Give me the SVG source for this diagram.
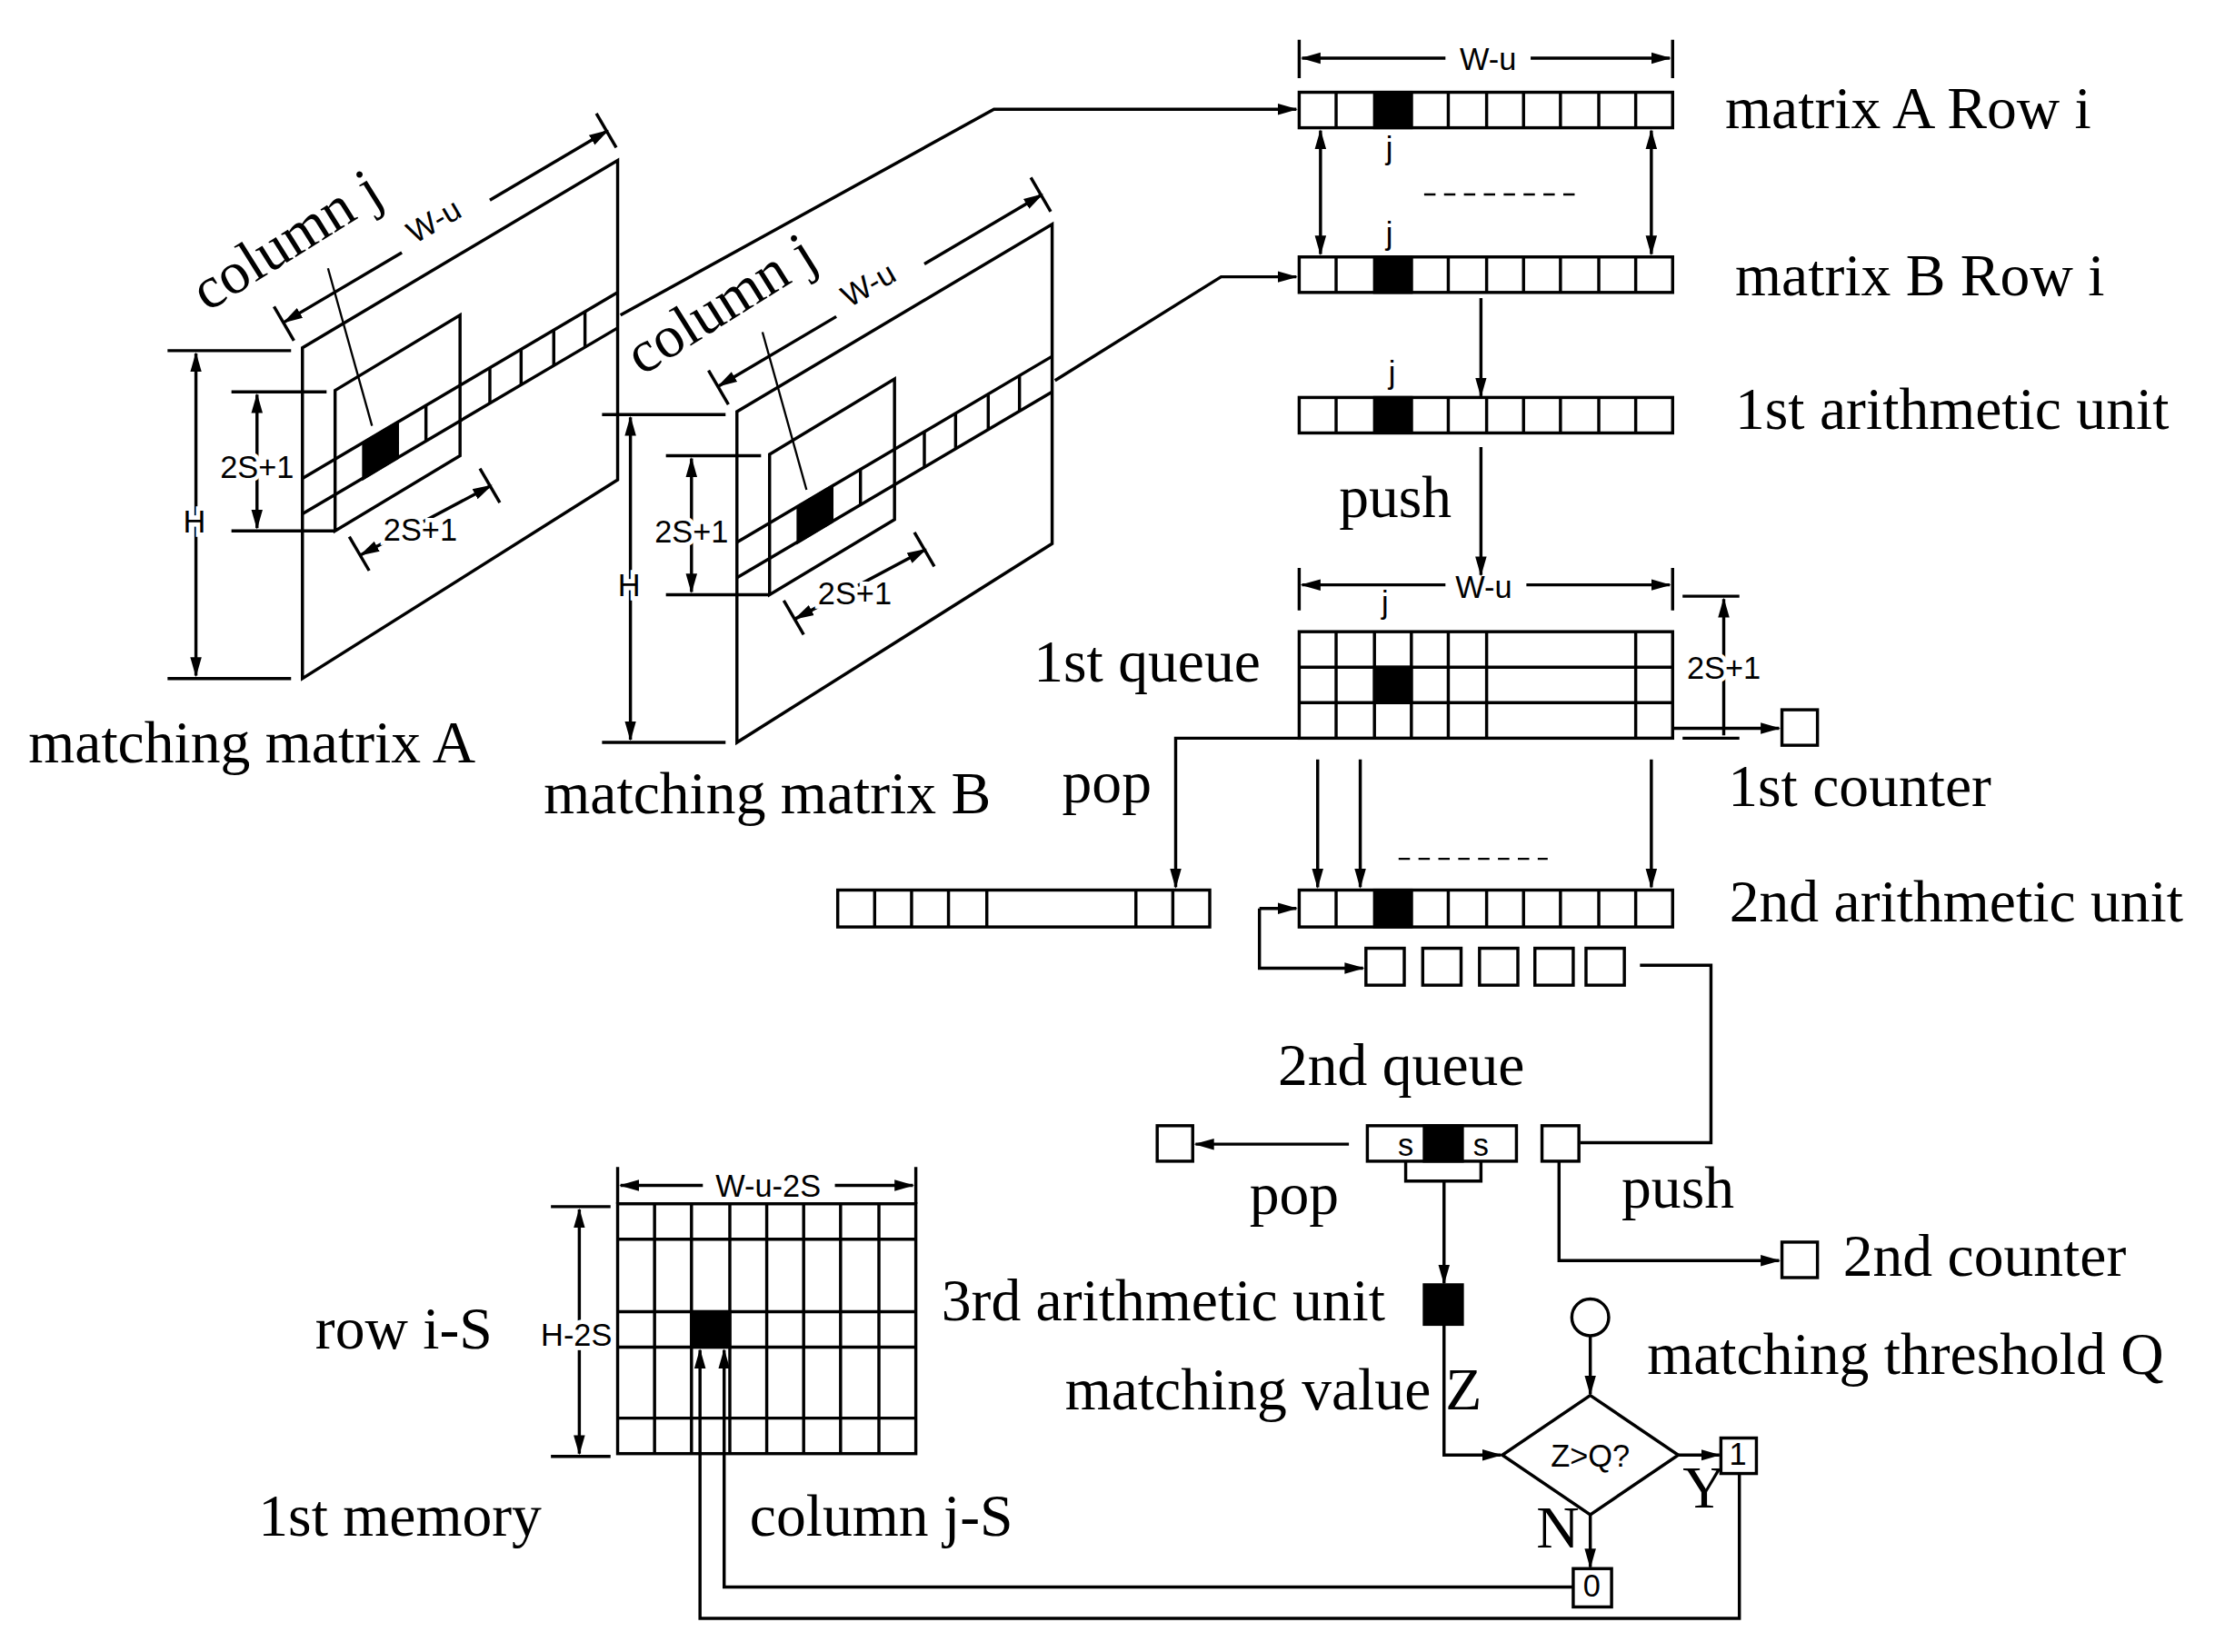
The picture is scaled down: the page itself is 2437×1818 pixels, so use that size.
<svg xmlns="http://www.w3.org/2000/svg" width="2437" height="1818" viewBox="0 0 2437 1818">
<style>
.l{fill:none;stroke:#000;stroke-width:2.2}
.t{fill:none;stroke:#000;stroke-width:1.5}
.c{fill:#fff;stroke:#000;stroke-width:2.2}
.b{fill:#000;stroke:#000;stroke-width:2}
.s{font-family:"Liberation Serif","Times New Roman",serif;font-size:42px;fill:#000}
.a{font-family:"Liberation Sans",Arial,sans-serif;font-size:22px;fill:#000}
.w{paint-order:stroke;stroke:#fff;stroke-width:6}
</style>
<defs>
<marker id="ar" markerWidth="14" markerHeight="10" refX="13" refY="5" orient="auto-start-reverse" markerUnits="userSpaceOnUse"><path d="M0,1 L14,5 L0,9 Z" fill="#000"/></marker>
<g id="mat">
<polygon class="l" points="213,245 435,113 435,338 213,478" fill="#fff"/>
<line class="l" x1="213" y1="337" x2="435" y2="206"/>
<line class="l" x1="213" y1="362" x2="435" y2="231"/>
<polygon class="l" points="236,275 324,222 324,321 236,374"/>
<polygon class="b" points="256,312 280,297.5 280,322.5 256,337"/>
<g class="l">
<line x1="300" y1="285.7" x2="300" y2="310.7"/><line x1="345" y1="259" x2="345" y2="284"/><line x1="367" y1="246" x2="367" y2="271"/><line x1="390" y1="232.6" x2="390" y2="257.6"/><line x1="412" y1="219.6" x2="412" y2="244.6"/>
</g>
<line class="t" x1="231" y1="189" x2="262" y2="300" stroke="#888"/>
<line class="l" x1="200" y1="227" x2="283" y2="178" marker-start="url(#ar)"/>
<line class="l" x1="345" y1="141" x2="428" y2="92" marker-end="url(#ar)"/>
<line class="l" x1="193" y1="216" x2="207" y2="240"/><line class="l" x1="420" y1="80" x2="434" y2="104"/>
<text class="a" transform="translate(292,172) rotate(-30)" font-size="24">W-u</text>
<text class="s" transform="translate(146,220) rotate(-32)">column j</text>
<line class="l" x1="118" y1="247" x2="205" y2="247"/><line class="l" x1="118" y1="478" x2="205" y2="478"/>
<line class="l" x1="138" y1="249" x2="138" y2="476" marker-start="url(#ar)" marker-end="url(#ar)"/>
<text class="a w" x="137" y="375" text-anchor="middle" font-size="24">H</text>
<line class="l" x1="163" y1="276" x2="230" y2="276"/><line class="l" x1="163" y1="374" x2="235" y2="374"/>
<line class="l" x1="181" y1="278" x2="181" y2="372" marker-start="url(#ar)" marker-end="url(#ar)"/>
<text class="a w" x="181" y="337" text-anchor="middle" font-size="24">2S+1</text>
<line class="l" x1="254" y1="391" x2="346" y2="342" marker-start="url(#ar)" marker-end="url(#ar)"/>
<line class="l" x1="246" y1="378" x2="260" y2="402"/><line class="l" x1="338" y1="330" x2="352" y2="354"/>
<text class="a w" x="296" y="381" text-anchor="middle" font-size="24">2S+1</text>
</g>
</defs>
<g transform="scale(1.5622)">
<g id="matrixA"><use href="#mat"/><text class="s" x="20" y="537">matching matrix A</text></g>
<g id="matrixB"><use href="#mat" transform="translate(306,45)"/><text class="s" x="383" y="573">matching matrix B</text></g>

<g id="rowA">
<rect class="c" x="915" y="65" width="263" height="25"/>
<rect class="b" x="968" y="65" width="26" height="25"/>
<g class="l"><path d="M941,65V90M994,65V90M1020,65V90M1047,65V90M1073,65V90M1099,65V90M1126,65V90M1152,65V90"/></g>
<path class="l" d="M915,28V55M1178,28V55"/>
<line class="l" x1="917" y1="41" x2="1018" y2="41" marker-start="url(#ar)"/>
<line class="l" x1="1078" y1="41" x2="1176" y2="41" marker-end="url(#ar)"/>
<text class="a" x="1048" y="49" text-anchor="middle" font-size="24">W-u</text>
<text class="a" x="976" y="112" font-size="20">j</text>
<text class="s" x="1215" y="90">matrix A Row i</text>
</g>
<g id="rowB">
<rect class="c" x="915" y="181" width="263" height="25"/>
<rect class="b" x="968" y="181" width="26" height="25"/>
<g class="l"><path d="M941,181V206M994,181V206M1020,181V206M1047,181V206M1073,181V206M1099,181V206M1126,181V206M1152,181V206"/></g>
<text class="a" x="976" y="172" font-size="20">j</text>
<text class="s" x="1222" y="208">matrix B Row i</text>
</g>
<g id="arith1">
<rect class="c" x="915" y="280" width="263" height="25"/>
<rect class="b" x="968" y="280" width="26" height="25"/>
<g class="l"><path d="M941,280V305M994,280V305M1020,280V305M1047,280V305M1073,280V305M1099,280V305M1126,280V305M1152,280V305"/></g>
<text class="a" x="978" y="270" font-size="20">j</text>
<text class="s" x="1222" y="302">1st  arithmetic unit</text>
</g>
<g id="queue1">
<rect class="c" x="915" y="445" width="263" height="75"/>
<rect class="b" x="968" y="470" width="26" height="25"/>
<path class="l" d="M915,470H1178M915,495H1178M941,445V520M968,445V520M994,445V520M1020,445V520M1047,445V520M1152,445V520"/>
<path class="l" d="M915,400V430M1178,400V430"/>
<line class="l" x1="917" y1="412" x2="1018" y2="412" marker-start="url(#ar)"/>
<line class="l" x1="1075" y1="412" x2="1176" y2="412" marker-end="url(#ar)"/>
<text class="a" x="1045" y="421" text-anchor="middle" font-size="24">W-u</text>
<text class="a" x="973" y="432" font-size="20">j</text>
<path class="l" d="M1185,420H1225M1185,520H1225"/>
<line class="l" x1="1214" y1="422" x2="1214" y2="518" marker-start="url(#ar)"/>
<text class="a w" x="1214" y="478" text-anchor="middle">2S+1</text>
<text class="s" x="728" y="480">1st queue</text>
</g>
<g id="counter1"><rect class="c" x="1255" y="500" width="25" height="25"/><text class="s" x="1217" y="568">1st  counter</text></g>
<g id="popRow">
<rect class="c" x="590" y="627" width="262" height="26"/>
<path class="l" d="M616,627V653M642,627V653M668,627V653M695,627V653M800,627V653M826,627V653"/>
</g>
<g id="arith2">
<rect class="c" x="915" y="627" width="263" height="26"/>
<rect class="b" x="968" y="627" width="26" height="26"/>
<path class="l" d="M941,627V653M994,627V653M1020,627V653M1047,627V653M1073,627V653M1099,627V653M1126,627V653M1152,627V653"/>
<text class="s" x="1218" y="649">2nd  arithmetic unit</text>
</g>
<g id="smallBoxes">
<rect class="c" x="962" y="668" width="27" height="26"/><rect class="c" x="1002" y="668" width="27" height="26"/><rect class="c" x="1042" y="668" width="27" height="26"/><rect class="c" x="1081" y="668" width="27" height="26"/><rect class="c" x="1117" y="668" width="27" height="26"/>
</g>
<g id="queue2">
<text class="s" x="900" y="764">2nd queue</text>
<rect class="c" x="963" y="793" width="105" height="25"/>
<rect class="b" x="1003" y="793" width="27" height="25"/>
<text class="a" x="990" y="814" text-anchor="middle" font-size="20">s</text>
<text class="a" x="1043" y="814" text-anchor="middle" font-size="20">s</text>
<path class="l" d="M990,818V832H1043V818"/>
</g>
<g id="popBox"><rect class="c" x="815" y="793" width="25" height="25"/></g>
<g id="pushBox"><rect class="c" x="1086" y="793" width="26" height="25"/></g>
<g id="counter2"><rect class="c" x="1255" y="875" width="25" height="25"/><text class="s" x="1298" y="899">2nd  counter</text></g>
<g id="arith3"><rect class="b" x="1003" y="905" width="27" height="28"/><text class="s" x="663" y="930">3rd  arithmetic unit</text></g>
<g id="threshold"><circle class="c" cx="1120" cy="928" r="13"/><text class="s" x="1160" y="968">matching threshold Q</text></g>
<g id="decision">
<polygon class="c" points="1120,983 1182,1025 1120,1067 1058,1025"/>
<text class="a" x="1120" y="1033" text-anchor="middle" font-size="20">Z&gt;Q?</text>
<text class="s" x="1185" y="1062">Y</text><text class="s" x="1082" y="1090">N</text>
</g>
<g id="one"><rect class="c" x="1212" y="1013" width="25" height="25"/><text class="a" x="1224" y="1032" text-anchor="middle" font-size="16">1</text></g>
<g id="zero"><rect class="c" x="1108" y="1105" width="27" height="27"/><text class="a" x="1121" y="1125" text-anchor="middle" font-size="16">0</text></g>
<g id="memory">
<rect class="c" x="435" y="848" width="210" height="176"/>
<rect class="b" x="487" y="924" width="27" height="25"/>
<path class="l" d="M435,873H645M435,924H645M435,949H645M435,999H645M461,848V1024M487,848V1024M514,848V1024M540,848V1024M566,848V1024M592,848V1024M619,848V1024"/>
<path class="l" d="M435,822V848M645,822V848"/>
<line class="l" x1="437" y1="835" x2="495" y2="835" marker-start="url(#ar)"/>
<line class="l" x1="588" y1="835" x2="643" y2="835" marker-end="url(#ar)"/>
<text class="a" x="541" y="843" text-anchor="middle">W-u-2S</text>
<path class="l" d="M388,850H430M388,1026H430"/>
<line class="l" x1="408" y1="852" x2="408" y2="1024" marker-start="url(#ar)" marker-end="url(#ar)"/>
<text class="a w" x="406" y="948" text-anchor="middle">H-2S</text>
<text class="s" x="222" y="950">row i-S</text>
<text class="s" x="182" y="1082">1st memory</text>
<text class="s" x="528" y="1082">column j-S</text>
</g>
<g id="dashes" stroke="#000" stroke-width="1.5" stroke-dasharray="8,6" fill="none">
<line x1="1003" y1="137" x2="1110" y2="137"/><line x1="985" y1="605" x2="1090" y2="605"/>
</g>
<g id="connectors">
<polyline class="l" points="437,222 700,77 913,77" marker-end="url(#ar)"/>
<polyline class="l" points="743,268 860,195 913,195" marker-end="url(#ar)"/>
<line class="l" x1="930" y1="92" x2="930" y2="179" marker-start="url(#ar)" marker-end="url(#ar)"/>
<line class="l" x1="1163" y1="92" x2="1163" y2="179" marker-start="url(#ar)" marker-end="url(#ar)"/>
<line class="l" x1="1043" y1="210" x2="1043" y2="279" marker-end="url(#ar)"/>
<line class="l" x1="1043" y1="315" x2="1043" y2="405" marker-end="url(#ar)"/>
<text class="s" x="943" y="364">push</text>
<polyline class="l" points="1178,513 1253,513" marker-end="url(#ar)"/>
<polyline class="l" points="915,520 828,520 828,625" marker-end="url(#ar)"/>
<text class="s" x="748" y="565">pop</text>
<line class="l" x1="928" y1="535" x2="928" y2="625" marker-end="url(#ar)"/>
<line class="l" x1="958" y1="535" x2="958" y2="625" marker-end="url(#ar)"/>
<line class="l" x1="1163" y1="535" x2="1163" y2="625" marker-end="url(#ar)"/>
<line class="l" x1="913" y1="640" x2="887" y2="640" marker-start="url(#ar)"/>
<polyline class="l" points="887,640 887,682 960,682" marker-end="url(#ar)"/>
<polyline class="l" points="1155,680 1205,680 1205,805 1113,805"/>
<line class="l" x1="950" y1="806" x2="842" y2="806" marker-end="url(#ar)"/>
<text class="s" x="880" y="855">pop</text>
<text class="s" x="1142" y="851">push</text>
<polyline class="l" points="1098,818 1098,888 1253,888" marker-end="url(#ar)"/>
<line class="l" x1="1017" y1="832" x2="1017" y2="904" marker-end="url(#ar)"/>
<text class="s" x="750" y="993">matching value</text>
<text class="s" x="1018" y="993">Z</text>
<polyline class="l" points="1017,933 1017,1025 1057,1025" marker-end="url(#ar)"/>
<line class="l" x1="1120" y1="941" x2="1120" y2="982" marker-end="url(#ar)"/>
<line class="l" x1="1182" y1="1025" x2="1211" y2="1025" marker-end="url(#ar)"/>
<line class="l" x1="1120" y1="1067" x2="1120" y2="1104" marker-end="url(#ar)"/>
<polyline class="l" points="1108,1118 510,1118 510,951" marker-end="url(#ar)"/>
<polyline class="l" points="1225,1038 1225,1140 493,1140 493,951" marker-end="url(#ar)"/>
</g>
</g>
</svg>
